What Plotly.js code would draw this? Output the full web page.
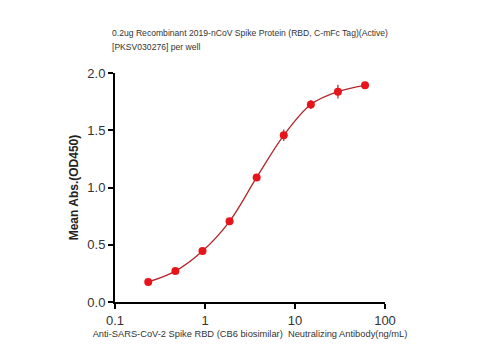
<!DOCTYPE html>
<html><head><meta charset="utf-8">
<script src="https://cdn.plot.ly/plotly-3.0.1.min.js"></script>
<style>html,body{margin:0;padding:0;background:#fff}#chart{width:480px;height:361px}</style>
</head><body><div id="chart"></div>
<script>
const concentrations = [0.234, 0.469, 0.938, 1.875, 3.75, 7.5, 15, 30, 60];
const meanAbs = [0.175, 0.27, 0.445, 0.705, 1.088, 1.456, 1.725, 1.837, 1.892];
const errors = [0.01, 0.012, 0.012, 0.012, 0.015, 0.05, 0.04, 0.06, 0.012];
const xTicks = [0.1, 1, 10, 100];
const xTickLabels = ['0.1', '1', '10', '100'];
const yTicks = [0, 0.5, 1.0, 1.5, 2.0];
const yTickLabels = ['0.0', '0.5', '1.0', '1.5', '2.0'];

const traces = [
  {x: concentrations, y: meanAbs, mode: 'lines', type: 'scatter',
   line: {color: '#b3262b', width: 1.3, shape: 'spline', smoothing: 1.0},
   hoverinfo: 'skip', showlegend: false},
  {x: concentrations, y: meanAbs, mode: 'markers', type: 'scatter',
   marker: {color: '#e8141c', size: 8},
   error_y: {type: 'data', array: errors, visible: true, color: '#b3262b', thickness: 1.2, width: 0},
   showlegend: false}
];

const layout = {
  width: 480, height: 361,
  margin: {l: 115, r: 95, t: 73, b: 59},
  paper_bgcolor: '#fff', plot_bgcolor: '#fff',
  font: {family: 'Liberation Sans, Arial, sans-serif', color: '#333'},
  annotations: [
    {text: '0.2ug Recombinant 2019-nCoV Spike Protein (RBD, C-mFc Tag)(Active)', xref: 'paper', yref: 'paper',
     x: -0.02, y: 1.0, xanchor: 'left', yanchor: 'bottom', yshift: 33, showarrow: false,
     font: {size: 8.6, color: '#333'}},
    {text: '[PKSV030276] per well', xref: 'paper', yref: 'paper',
     x: -0.02, y: 1.0, xanchor: 'left', yanchor: 'bottom', yshift: 19, showarrow: false,
     font: {size: 8.6, color: '#333'}}
  ],
  xaxis: {
    type: 'log', range: [-1, 2], tickvals: xTicks, ticktext: xTickLabels,
    showgrid: false, zeroline: false, showline: true, linecolor: '#000', linewidth: 2,
    ticks: 'outside', ticklen: 5, tickwidth: 2, tickcolor: '#000',
    tickfont: {size: 13, color: '#333'},
    title: {text: 'Anti-SARS-CoV-2 Spike RBD (CB6 biosimilar)  Neutralizing Antibody(ng/mL)', font: {size: 9.3, color: '#333'}, standoff: 4}
  },
  yaxis: {
    range: [0, 2], tickvals: yTicks, ticktext: yTickLabels,
    showgrid: false, zeroline: false, showline: true, linecolor: '#000', linewidth: 2,
    ticks: 'outside', ticklen: 5, tickwidth: 2, tickcolor: '#000',
    tickfont: {size: 13, color: '#333'},
    title: {text: '<b>Mean Abs.(OD450)</b>', font: {size: 12, color: '#222'}, standoff: 6}
  }
};
Plotly.newPlot('chart', traces, layout, {staticPlot: true});
</script></body></html>
